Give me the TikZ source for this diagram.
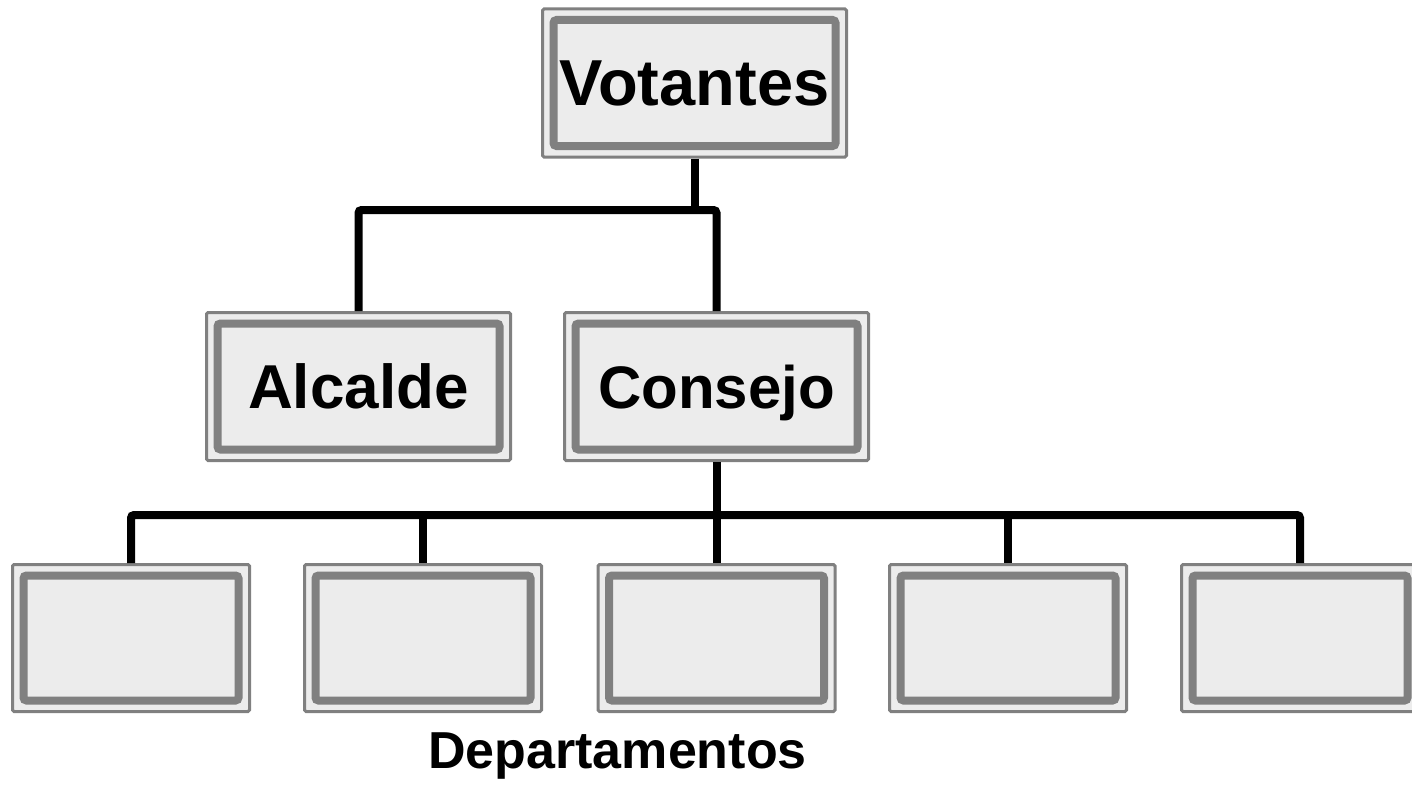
\documentclass[tikz,border=0pt]{standalone}
\usepackage{fontspec}
\setmainfont{Liberation Sans}
\usepackage{tikz}
\definecolor{boxfill}{RGB}{236, 236, 236}
\definecolor{boxgray}{RGB}{128, 128, 128}

\begin{document}
\begin{tikzpicture}[x = 1pt, y = -1pt,
	box/.style = {rectangle, draw = boxgray, line width = 3pt, fill = boxfill, rounded corners = 1.5pt,
		minimum width = 237pt, minimum height = 147pt, inner sep = 0pt,
		font = \fontsize{62}{70}\selectfont\bfseries, text height = 44pt, text depth = 0pt,
		path picture = {\draw[boxgray, line width = 8pt, rounded corners = 3pt]
			([shift = {(11pt,-11pt)}]path picture bounding box.north west) rectangle
			([shift = {(-11pt,11pt)}]path picture bounding box.south east);}},
	bigbox/.style = {box, minimum width = 304pt, minimum height = 148pt},
	conn/.style = {line width = 8pt, rounded corners = 3pt}]
			\useasboundingbox (0,0) rectangle (1412,784);
			\node (votantes) at (694.5,83) [bigbox, font = \fontsize{65}{70}\selectfont\bfseries] {Votantes};
			\node (alcalde) at (358.5,386.5) [bigbox] {Alcalde};
			\node (consejo) at (716.5,386.5) [bigbox, font = \fontsize{60}{70}\selectfont\bfseries] {Consejo};
			\node (d1) at (131,638) [box] {};
			\node (d2) at (423,638) [box] {};
			\node (d3) at (716.5,638) [box] {};
			\node (d4) at (1008,638) [box] {};
			\node (d5) at (1300,638) [box] {};
			\node (dep) at (617.5,750) [inner sep = 0pt, font = \fontsize{52}{60}\selectfont\bfseries, text height = 37pt, text depth = 0pt] {Departamentos};
			\coordinate (top) at (694.5,210);
			\coordinate (bus) at (716.5,515);
			\draw[conn] (alcalde.north) |- (top) -| (consejo.north);
			\draw[conn] (votantes.south) -- (top);
			\draw[conn] (consejo.south) -- (bus);
			\draw[conn] (d1.north) |- (bus) -| (d5.north);
			\foreach \n in {d2,d3,d4}
				\draw[conn] (\n.north) -- (\n.north |- bus);
			\end{tikzpicture}
\end{document}
